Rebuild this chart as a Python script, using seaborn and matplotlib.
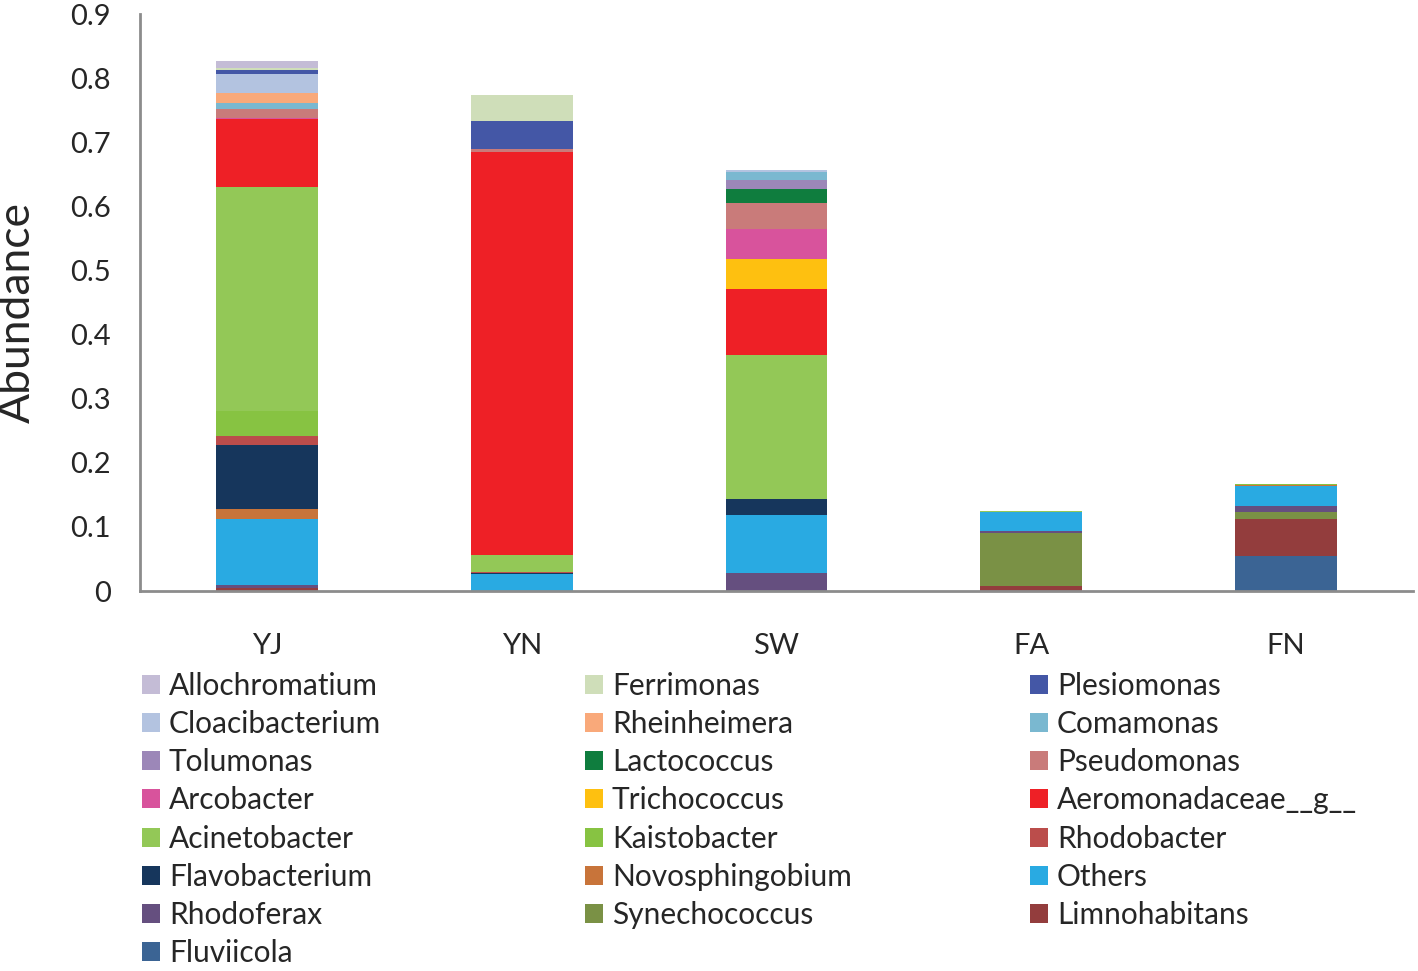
import numpy as np
import matplotlib
matplotlib.use("Agg")
import matplotlib.pyplot as plt
import matplotlib.patches as mpatches
import seaborn as sns

samples = ["YJ", "YN", "SW", "FA", "FN"]

# abundance per genus, in sample order YJ, YN, SW, FA, FN
fluviicola = [0, 0, 0, 0, 0.055]
limnohabitans = [0.005, 0, 0, 0.008, 0.057]
synechococcus = [0, 0, 0, 0.082, 0.011]
rhodoferax = [0.004, 0, 0.028, 0.003, 0.010]
others = [0.103, 0.026, 0.091, 0.030, 0.030]
novosphingobium = [0.016, 0, 0, 0, 0.002]
flavobacterium = [0.099, 0.002, 0.024, 0, 0]
rhodobacter = [0.015, 0.001, 0, 0, 0]
kaistobacter = [0.039, 0, 0, 0, 0.0015]
acinetobacter = [0.349, 0.027, 0.225, 0.002, 0]
aeromonadaceae = [0.106, 0.629, 0.103, 0, 0]
trichococcus = [0, 0, 0.047, 0, 0]
arcobacter = [0.002, 0, 0.046, 0, 0]
pseudomonas = [0.014, 0.004, 0.041, 0, 0]
lactococcus = [0, 0, 0.022, 0, 0]
tolumonas = [0, 0, 0.014, 0, 0]
comamonas = [0.009, 0, 0.013, 0, 0]
rheinheimera = [0.016, 0, 0, 0, 0]
cloacibacterium = [0.029, 0, 0.003, 0, 0]
plesiomonas = [0.006, 0.044, 0, 0, 0]
ferrimonas = [0.003, 0.040, 0, 0, 0]
allochromatium = [0.011, 0.001, 0, 0, 0]

# bottom to top
stack = [
    ("Fluviicola", fluviicola, "#3b6494"),
    ("Limnohabitans", limnohabitans, "#933d3d"),
    ("Synechococcus", synechococcus, "#7a9145"),
    ("Rhodoferax", rhodoferax, "#654f7f"),
    ("Others", others, "#29aae2"),
    ("Novosphingobium", novosphingobium, "#c8743a"),
    ("Flavobacterium", flavobacterium, "#16365c"),
    ("Rhodobacter", rhodobacter, "#bb4d4b"),
    ("Kaistobacter", kaistobacter, "#87c342"),
    ("Acinetobacter", acinetobacter, "#93c857"),
    ("Aeromonadaceae__g__", aeromonadaceae, "#ee2026"),
    ("Trichococcus", trichococcus, "#fec010"),
    ("Arcobacter", arcobacter, "#d8539c"),
    ("Pseudomonas", pseudomonas, "#c97b7a"),
    ("Lactococcus", lactococcus, "#0f7d3e"),
    ("Tolumonas", tolumonas, "#9c87b8"),
    ("Comamonas", comamonas, "#7ab8d0"),
    ("Rheinheimera", rheinheimera, "#f9a97a"),
    ("Cloacibacterium", cloacibacterium, "#b3c3e0"),
    ("Plesiomonas", plesiomonas, "#4457a6"),
    ("Ferrimonas", ferrimonas, "#cfdeb9"),
    ("Allochromatium", allochromatium, "#c4bcd6"),
]

sns.set_style("white")
plt.rcParams["font.family"] = ["Lato", "DejaVu Sans"]

fig = plt.figure(figsize=(14.18, 9.71), dpi=100)
ax = fig.add_axes([140 / 1418, 1 - 591 / 971, 1273 / 1418, 577 / 971])

bottom = np.zeros(len(samples))
for name, vals, col in stack:
    sns.barplot(x=samples, y=vals, bottom=bottom, color=col, saturation=1,
                width=0.4, linewidth=0, errorbar=None, ax=ax)
    bottom = bottom + np.array(vals)

ax.set_xlim(-0.5, 4.5)
ax.set_ylim(0, 0.9)
ax.set_yticks(np.arange(0, 0.91, 0.1))
ax.set_yticklabels(["0"] + ["%.1f" % v for v in np.arange(0.1, 0.91, 0.1)])
ax.set_xticks(range(5))
ax.set_xticklabels(samples)
ax.set_xticks(np.arange(-0.5, 4.6, 1), minor=True)
ax.tick_params(axis="x", which="major", length=0, pad=30, labelsize=21)
ax.tick_params(axis="x", which="minor", length=9, width=2, color="#8c8c8c", direction="out")
ax.tick_params(axis="y", length=8, width=2, color="#8c8c8c", direction="out", labelsize=21, pad=13)
ax.set_ylabel("Abundance", fontsize=32)
ax.yaxis.set_label_coords(-0.080, 0.483)
ax.set_xlabel("")
for s in ["top", "right"]:
    ax.spines[s].set_visible(False)
for s in ["left", "bottom"]:
    ax.spines[s].set_color("#8c8c8c")
    ax.spines[s].set_linewidth(2)

# legend, three columns read row by row from the top of the stack
order = [item for item in stack[::-1]]
cols = [order[0::3], order[1::3], order[2::3]]
xs = [142, 585, 1030]
for xpos, items in zip(xs, cols):
    handles = [mpatches.Patch(facecolor=c, edgecolor="none", label=n) for n, _, c in items]
    leg = fig.legend(handles=handles, loc="upper left",
                     bbox_to_anchor=(xpos / 1418, 1 - 672 / 971),
                     frameon=False, fontsize=21.5, handlelength=0.6,
                     handleheight=0.6, handletextpad=0.3, labelspacing=0.34,
                     borderaxespad=0, borderpad=0)

fig.savefig("out.png", dpi=100)
